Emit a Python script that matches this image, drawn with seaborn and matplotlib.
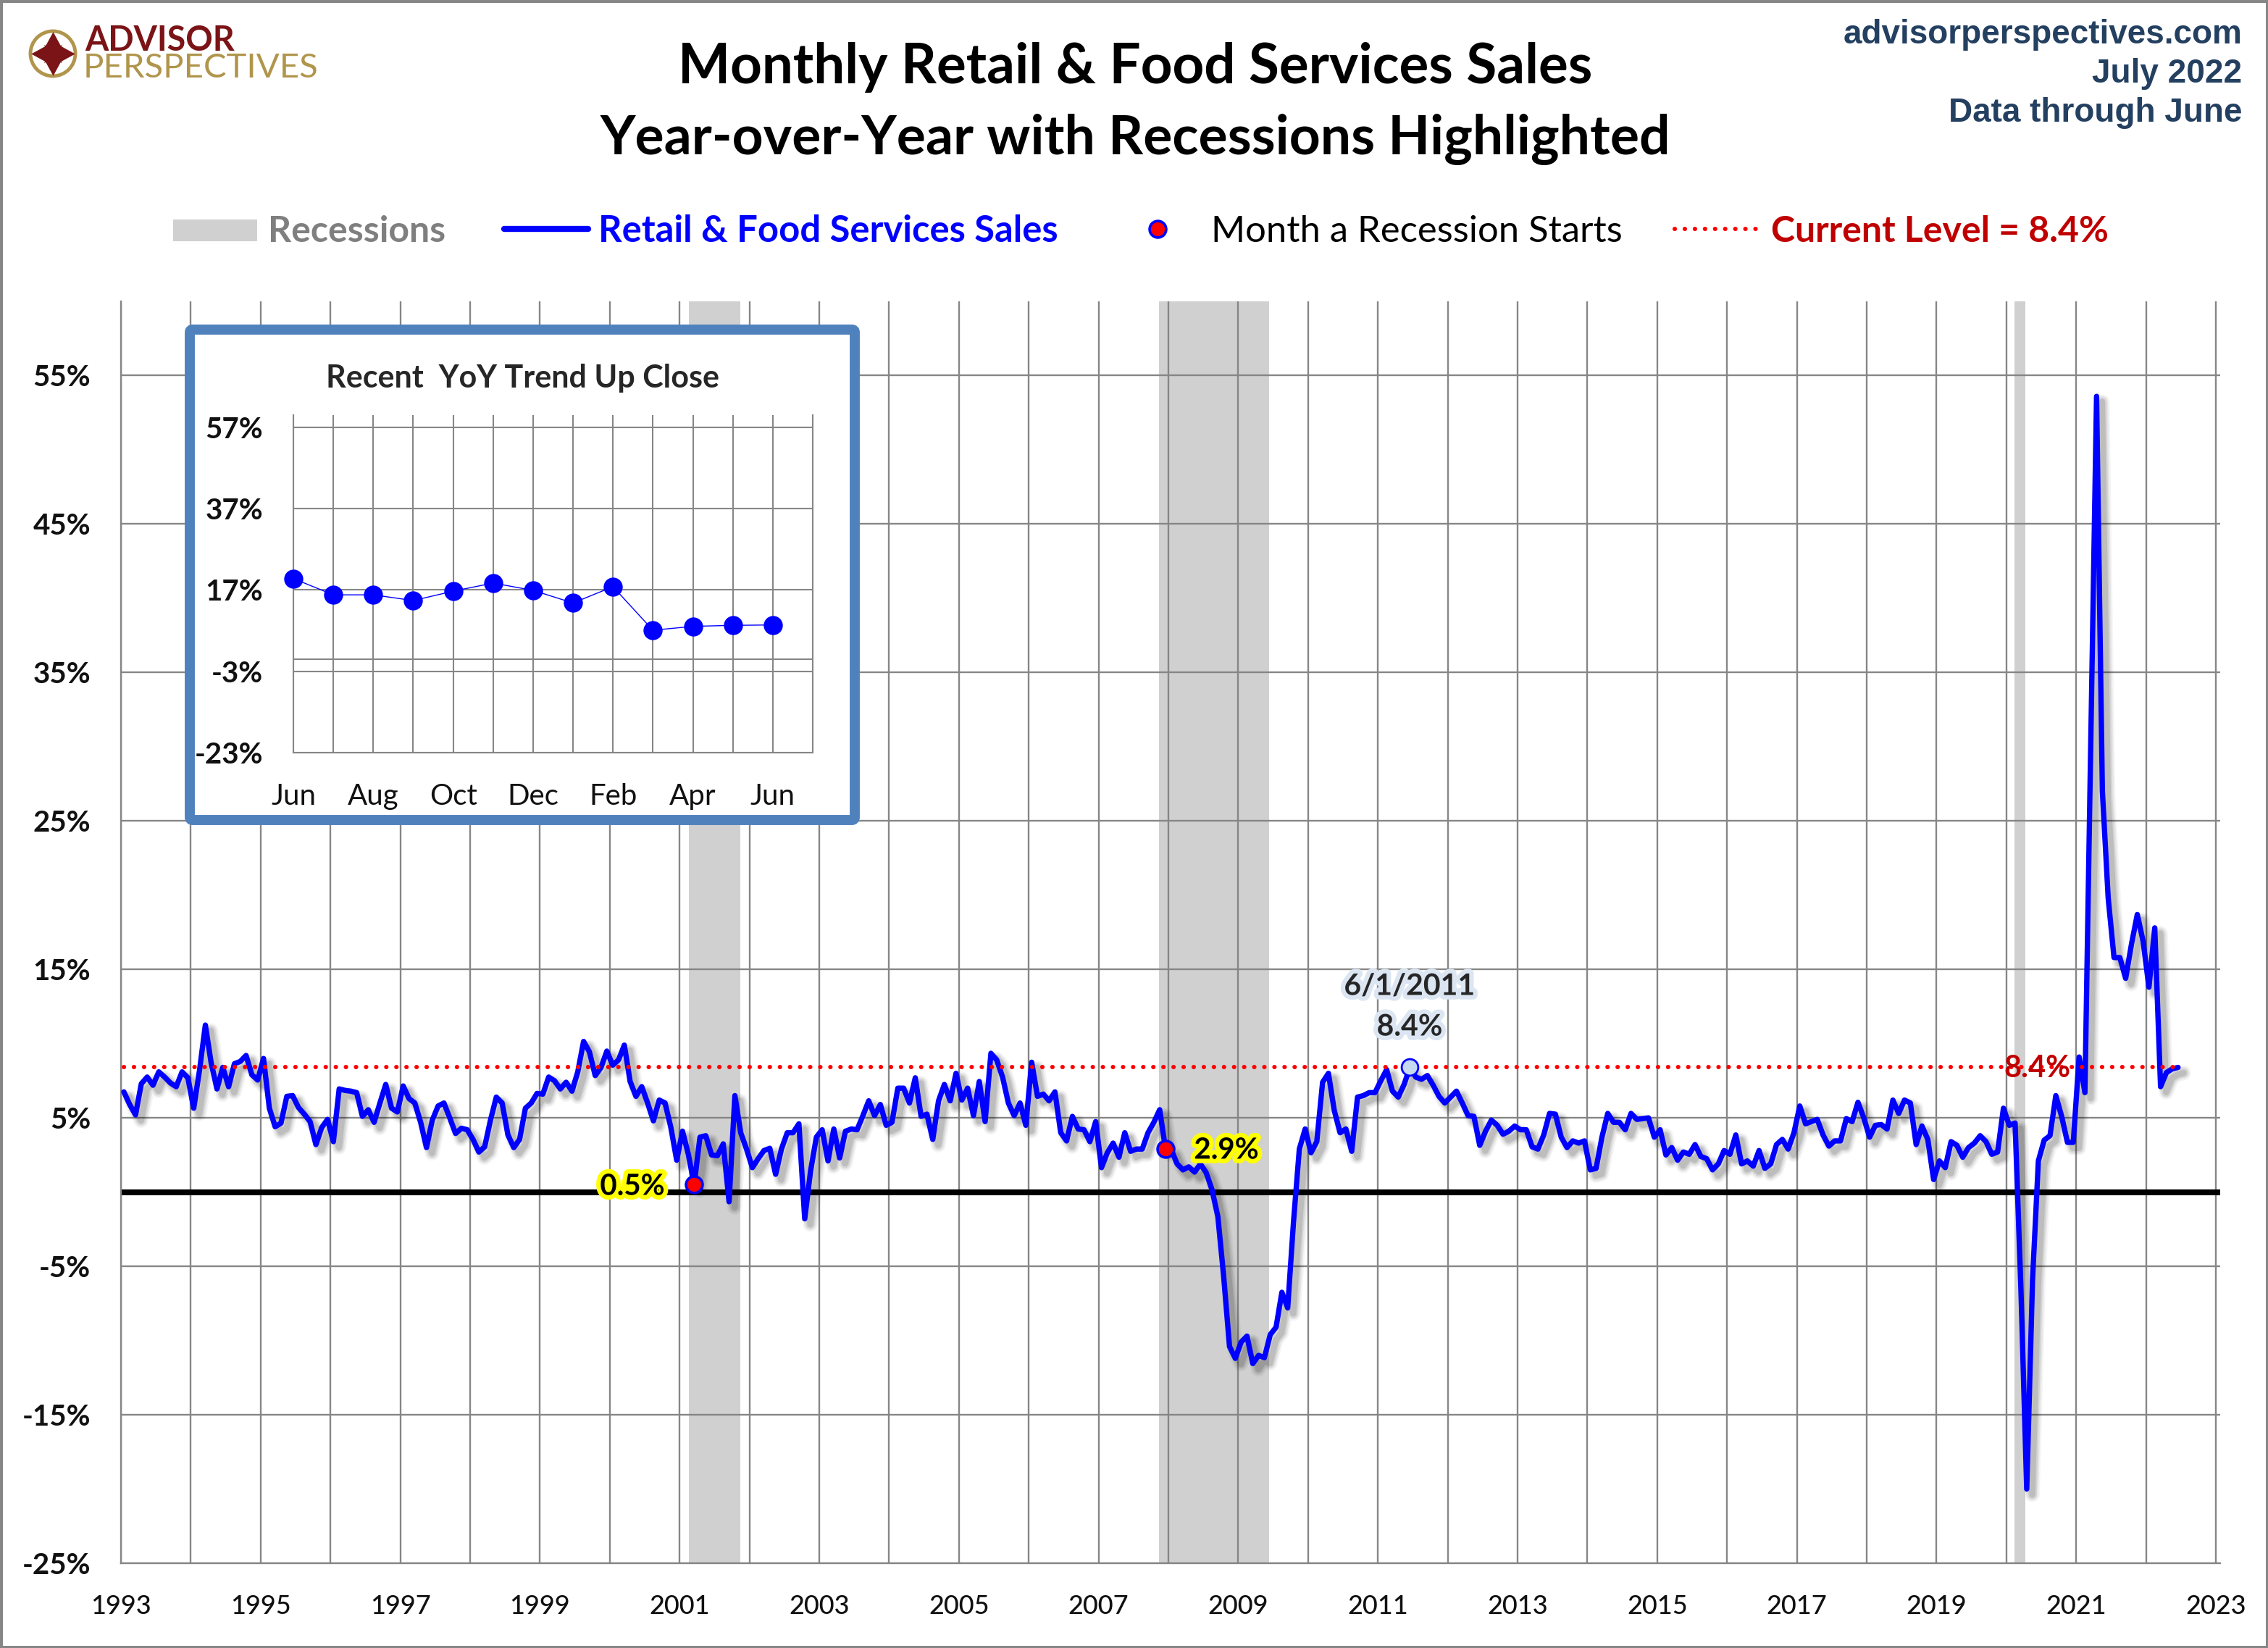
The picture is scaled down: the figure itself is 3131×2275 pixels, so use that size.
import numpy as np
import matplotlib
matplotlib.use("Agg")
import matplotlib.pyplot as plt
import matplotlib.patheffects as pe
from matplotlib.patches import Circle, FancyBboxPatch, Rectangle
import seaborn as sns

# === data ===
# monthly YoY %, Jan 1993 to Jun 2022
yoy_1993_1997 = [6.75, 5.9, 5.2, 7.3, 7.75, 7.2, 8.1, 7.75, 7.35, 7.1, 8.1, 7.7,
                 5.65, 8.2, 11.25, 8.7, 6.95, 8.4, 7.1, 8.65, 8.8, 9.2, 7.9, 7.55,
                 9.0, 5.65, 4.4, 4.65, 6.45, 6.5, 5.7, 5.25, 4.75, 3.2, 4.35, 4.9,
                 3.4, 6.95, 6.85, 6.8, 6.7, 5.1, 5.55, 4.7, 6.0, 7.25, 5.65, 5.4,
                 7.15, 6.3, 6.0, 4.7, 3.0, 4.85, 5.8, 6.0, 5.0, 3.95, 4.3, 4.2]
yoy_1998_2002 = [3.55, 2.7, 3.05, 4.85, 6.4, 6.0, 3.85, 3.0, 3.55, 5.65, 6.0, 6.65,
                 6.6, 7.75, 7.5, 6.95, 7.4, 6.8, 8.1, 10.15, 9.45, 7.85, 8.4, 9.5,
                 8.55, 8.9, 9.9, 7.45, 6.45, 7.1, 6.0, 4.8, 6.2, 6.0, 4.35, 2.15,
                 4.1, 2.55, 0.5, 3.7, 3.8, 2.5, 2.45, 3.25, -0.65, 6.5, 4.0, 2.9,
                 1.65, 2.25, 2.8, 2.95, 1.2, 2.9, 4.0, 4.0, 4.6, -1.8, 1.4, 3.7]
yoy_2003_2007 = [4.2, 2.1, 4.25, 2.3, 4.1, 4.25, 4.2, 5.15, 6.15, 5.15, 5.9, 4.5,
                 4.7, 7.0, 7.0, 6.0, 7.7, 5.1, 5.25, 3.55, 6.15, 7.25, 6.15, 8.0,
                 6.2, 7.0, 5.15, 7.45, 4.75, 9.35, 8.9, 7.75, 6.0, 5.15, 6.0, 4.5,
                 8.75, 6.45, 6.6, 6.15, 6.75, 4.0, 3.45, 5.1, 4.25, 4.2, 3.4, 4.75,
                 1.65, 2.65, 3.3, 2.35, 4.0, 2.75, 2.9, 2.9, 4.0, 4.7, 5.55, 2.9]
yoy_2008_2012 = [2.85, 1.9, 1.5, 1.7, 1.35, 1.9, 1.3, 0.15, -1.65, -5.7, -10.4, -11.2,
                 -10.1, -9.7, -11.55, -11.0, -11.15, -9.6, -9.1, -6.75, -7.8, -2.0, 2.9, 4.25,
                 2.65, 3.4, 7.4, 8.0, 5.5, 4.0, 4.25, 2.75, 6.4, 6.5, 6.7, 6.7,
                 7.5, 8.25, 6.8, 6.4, 7.25, 8.4, 7.75, 7.6, 7.85, 7.2, 6.45, 6.0,
                 6.4, 6.8, 6.0, 5.15, 5.1, 3.15, 4.1, 4.85, 4.5, 3.9, 4.1, 4.45]
yoy_2013_2017 = [4.2, 4.2, 3.05, 2.9, 3.85, 5.3, 5.25, 3.7, 3.0, 3.45, 3.3, 3.45,
                 1.5, 1.6, 3.7, 5.3, 4.7, 4.7, 4.2, 5.3, 4.9, 4.95, 5.0, 3.7,
                 4.2, 2.5, 3.0, 2.15, 2.7, 2.55, 3.2, 2.4, 2.25, 1.5, 1.9, 2.8,
                 2.55, 3.85, 1.9, 2.1, 1.75, 2.8, 1.6, 1.9, 3.2, 3.55, 2.9, 4.0,
                 5.8, 4.6, 4.75, 4.9, 3.85, 3.1, 3.45, 3.45, 4.95, 4.75, 6.05, 5.0]
yoy_2018_2022 = [3.7, 4.5, 4.55, 4.25, 6.2, 5.3, 6.2, 6.0, 3.2, 4.45, 3.55, 0.85,
                 2.1, 1.65, 3.4, 3.15, 2.35, 3.0, 3.3, 3.8, 3.4, 2.55, 2.7, 5.65,
                 4.5, 4.65, -6.5, -20.0, -5.9, 2.1, 3.5, 3.8, 6.5, 5.1, 3.35, 3.35,
                 9.1, 6.7, 30.0, 53.6, 27.0,
                 19.8, 15.8, 15.8, 14.4, 16.7, 18.7, 16.9, 13.8, 17.8, 7.1, 8.05, 8.3, 8.4]

recession_starts = [2001.13, 2007.87, 2020.12]
recession_ends = [2001.87, 2009.44, 2020.27]
start_months = [98, 179]       # Mar 2001, Dec 2007
start_labels = ["0.5%", "2.9%"]
match_month = 221              # Jun 2011
current_level = 8.4

y_ticks = [55, 45, 35, 25, 15, 5, -5, -15, -25]
year_ticks = list(range(1993, 2024))

# inset, Jun 2021 to Jun 2022
inset_values = [19.8, 15.8, 15.8, 14.4, 16.7, 18.7, 16.9, 13.8, 17.8, 7.1, 8.05, 8.3, 8.4]
inset_months = ["Jun", "", "Aug", "", "Oct", "", "Dec", "", "Feb", "", "Apr", "", "Jun"]
inset_y_ticks = [57, 37, 17, -3, -23]

# === setup ===
W, H = 3131, 2275
GRID = "#868686"
BLUE = "#0000FF"
DARK_RED = "#C00000"
NAVY = "#244061"

sns.set_theme(style="white")
plt.rcParams["font.family"] = ["Lato", "DejaVu Sans"]
plt.rcParams["axes.unicode_minus"] = False

yoy = yoy_1993_1997 + yoy_1998_2002 + yoy_2003_2007 + yoy_2008_2012 + yoy_2013_2017 + yoy_2018_2022
t = 1993 + (np.arange(len(yoy)) + 0.5) / 12


def px_axes(left, top, right, bottom, **kw):
    # axes placed by pixel edges of the final image
    return fig.add_axes([left / W, 1 - bottom / H, (right - left) / W, (bottom - top) / H], **kw)


fig = plt.figure(figsize=(W / 100, H / 100), dpi=100, facecolor="white",
                 edgecolor=GRID, linewidth=5)

# === main chart ===
ax = px_axes(167, 416, 3065, 2158, zorder=1)
ax.set_xlim(1993, 1993 + (3065 - 167) / 96.4)
ax.set_ylim(-25, 60)

for s, e in zip(recession_starts, recession_ends):
    ax.axvspan(s, e, color="#D0D0D0", lw=0, zorder=0.5)

ax.set_yticks(y_ticks)
ax.set_yticklabels([f"{v}%" for v in y_ticks], fontsize=29, fontweight="bold", color="#111111")
ax.set_xticks(year_ticks)
ax.set_xticklabels([str(y) if (y - 1993) % 2 == 0 else "" for y in year_ticks],
                   fontsize=26, fontweight="medium", color="#111111")
ax.tick_params(axis="y", length=10, width=1.6, color=GRID, pad=20)
ax.tick_params(axis="x", length=0, pad=31)
ax.grid(True, color=GRID, lw=1.7, zorder=1)
ax.set_axisbelow(True)
for side in ["top", "right"]:
    ax.spines[side].set_visible(False)
for side in ["left", "bottom"]:
    ax.spines[side].set_color(GRID)
    ax.spines[side].set_linewidth(1.7)

ax.axhline(0, color="black", lw=5.8, zorder=2, solid_capstyle="butt")

shadow = [pe.SimpleLineShadow(offset=(5.5, -5.5), shadow_color="black", alpha=a, linewidth=w)
          for w, a in [(15, 0.04), (12, 0.06), (9, 0.08), (6, 0.10)]]
sns.lineplot(x=t, y=yoy, ax=ax, color=BLUE, lw=5.3, estimator=None, sort=False, zorder=3,
             solid_joinstyle="round", solid_capstyle="round",
             path_effects=shadow + [pe.Normal()], legend=False)

ax.plot([t[0], t[-1]], [current_level, current_level], color="#FF0000", lw=4.4,
        ls=(0, (0.01, 2.27)), dash_capstyle="round", zorder=4)

sns.scatterplot(x=t[start_months], y=np.array(yoy)[start_months], ax=ax, s=270, color="#FF0000",
                edgecolor=BLUE, linewidth=2.6, zorder=5, legend=False)
sns.scatterplot(x=[t[match_month]], y=[yoy[match_month]], ax=ax, s=270, color="#C6D9F1",
                edgecolor=BLUE, linewidth=2.0, zorder=5, legend=False)

# === page level text and legend, in pixels ===
ov = fig.add_axes([0, 0, 1, 1], zorder=2)
ov.set_xlim(0, W)
ov.set_ylim(H, 0)
ov.axis("off")

ov.text(1567, 93, "Monthly Retail & Food Services Sales", ha="center", va="center",
        fontsize=55, fontweight="bold", color="black")
ov.text(1567, 193, "Year-over-Year with Recessions Highlighted", ha="center", va="center",
        fontsize=54, fontweight="bold", color="black")

for y, line in zip([48, 102, 156], ["advisorperspectives.com", "July 2022", "Data through June"]):
    ov.text(3095, y, line, ha="right", va="center", fontsize=33, fontweight="bold",
            color=NAVY, family="Liberation Sans")

# logo
ov.add_patch(Circle((73, 74), 31, fill=False, ec="#B0954B", lw=3.5))
ov.scatter([73], [74], marker=(4, 1, 0), s=1900, color="#7B1416", lw=0, zorder=3)
ov.scatter([73], [74], marker=(8, 1, 0), s=650, color="#7B1416", lw=0, zorder=3)
ov.text(117, 56, "ADVISOR", ha="left", va="center", fontsize=33.5, fontweight="bold", color="#7B1416")
ov.text(115, 94, "PERSPECTIVES", ha="left", va="center", fontsize=34, color="#B0954B")

# legend
LEG_Y = 320
ov.add_patch(Rectangle((239, 303), 116, 30, color="#D0D0D0", lw=0))
ov.text(370, LEG_Y, "Recessions", ha="left", va="center", fontsize=36, fontweight="bold", color="#7F7F7F")
ov.plot([696, 812], [316, 316], color=BLUE, lw=6, solid_capstyle="round")
ov.text(826, LEG_Y, "Retail & Food Services Sales", ha="left", va="center", fontsize=36.5,
        fontweight="bold", color=BLUE)
ov.scatter([1598], [316], s=270, color="#FF0000", edgecolor=BLUE, linewidth=2.6)
ov.text(1672, LEG_Y, "Month a Recession Starts", ha="left", va="center", fontsize=36.5, color="black")
ov.plot([2312, 2436], [316, 316], color="#FF0000", lw=4.4, ls=(0, (0.01, 2.27)), dash_capstyle="round")
ov.text(2445, LEG_Y, "Current Level = 8.4%", ha="left", va="center", fontsize=36,
        fontweight="bold", color=DARK_RED)

# callouts
yellow = [pe.withStroke(linewidth=9, foreground="#FFFF00")]
for (cx, cy), label in zip([(873, 1638), (1693, 1588)], start_labels):
    ov.text(cx, cy, label, ha="center", va="center", fontsize=29, fontweight="bold",
            color="black", path_effects=yellow)
pale = [pe.withStroke(linewidth=9, foreground="#DCE6F2")]
ov.text(1946, 1362, "6/1/2011", ha="center", va="center", fontsize=29.5, fontweight="bold", path_effects=pale)
ov.text(1946, 1418, "8.4%", ha="center", va="center", fontsize=29.5, fontweight="bold", path_effects=pale)
ov.text(2812, 1475, "8.4%", ha="center", va="center", fontsize=30, fontweight="bold", color=DARK_RED)

# === inset ===
ov.add_patch(FancyBboxPatch((262, 455), 918, 677, boxstyle="round,pad=0,rounding_size=4",
                            fc="white", ec="#4F81BD", lw=10))
ov.text(721, 522, "Recent  YoY Trend Up Close", ha="center", va="center", fontsize=31, fontweight="bold")

ins = px_axes(405, 573, 1122, 1039, zorder=3)
ins.patch.set_alpha(0)
ins.set_xlim(0, 13)
ins.set_ylim(-23, 60)
sns.lineplot(x=np.arange(len(inset_values)), y=inset_values, ax=ins, color=BLUE, lw=1.0,
             marker="o", markersize=19, markeredgewidth=0, estimator=None, zorder=4,
             clip_on=False, legend=False)
ins.set_yticks(inset_y_ticks)
ins.set_yticklabels([f"{v}%" for v in inset_y_ticks], fontsize=29, fontweight="bold", color="#111111")
ins.set_xticks(np.arange(14))
ins.set_xticklabels(inset_months + [""], fontsize=29, color="#111111")
ins.tick_params(length=0)
ins.tick_params(axis="y", pad=30)
ins.tick_params(axis="x", pad=30)
ins.grid(True, color=GRID, lw=1.5)
ins.set_axisbelow(True)
ins.axhline(0, color=GRID, lw=1.5, zorder=1)
for side in ["top"]:
    ins.spines[side].set_visible(False)
for side in ["left", "bottom", "right"]:
    ins.spines[side].set_color(GRID)
    ins.spines[side].set_linewidth(1.5)

plt.savefig("out.png", dpi=100)
plt.close()
